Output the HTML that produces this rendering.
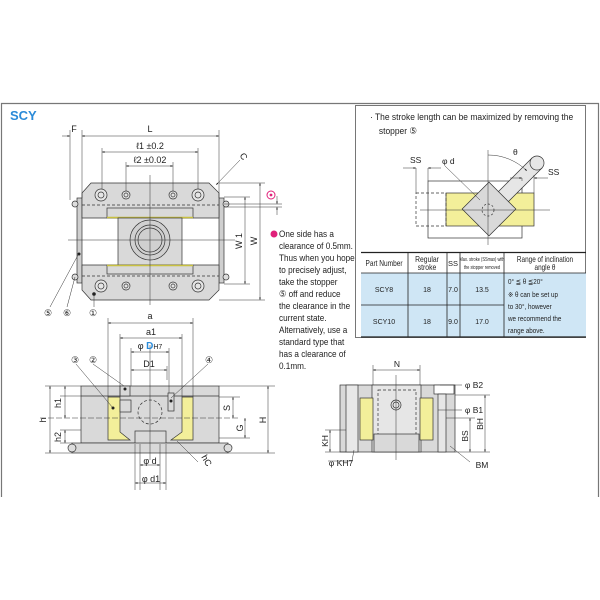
<!DOCTYPE html>
<html><head><meta charset="utf-8"><style>
html,body{margin:0;padding:0;background:#fff;}
svg{display:block;font-family:"Liberation Sans",sans-serif;}
</style></head><body>
<svg width="600" height="600" viewBox="0 0 600 600" xmlns="http://www.w3.org/2000/svg">
<defs>
<marker id="a" viewBox="0 0 6 6" refX="6" refY="3" markerWidth="5" markerHeight="5" orient="auto-start-reverse"><path d="M0,1 L6,3 L0,5z" fill="#222"/></marker>
</defs>
<path d="M1.5,497 V103.5 H598.5 V497" fill="none" stroke="#777" stroke-width="1.2"/>
<text x="10" y="120" font-size="13" font-weight="bold" fill="#2a8ad8">SCY</text>

<g stroke="#333" stroke-width="0.7" fill="none">
<rect x="77" y="198" width="5" height="85" fill="#cfcfcf"/>
<rect x="219" y="198" width="5" height="85" fill="#cfcfcf"/>
<circle cx="75" cy="204" r="3" fill="#ddd"/><circle cx="75" cy="277" r="3" fill="#ddd"/>
<circle cx="226" cy="204" r="3" fill="#ddd"/><circle cx="226" cy="277" r="3" fill="#ddd"/>
<path d="M91,183 H209 L219,193 V218 H82 V193Z" fill="#d9d9d9"/>
<rect x="107" y="208" width="86" height="10" fill="#d9d9d9"/>
<line x1="107" y1="217.5" x2="193" y2="217.5" stroke="#c8c040" stroke-width="1.5"/>
<rect x="118" y="218" width="64" height="47" fill="#d9d9d9"/>
<path d="M82,265 H219 V290 L209,300 H91 L82,290Z" fill="#d9d9d9"/>
<rect x="107" y="265" width="86" height="9" fill="#d9d9d9"/>
<line x1="107" y1="265.5" x2="193" y2="265.5" stroke="#c8c040" stroke-width="1.5"/>
<circle cx="150" cy="240" r="20" fill="#d0d0d0"/><circle cx="150" cy="240" r="15"/><circle cx="150" cy="240" r="12"/>
<g stroke-dasharray="3,2"><line x1="82" y1="205" x2="219" y2="205"/><line x1="82" y1="276" x2="219" y2="276"/></g>
<g fill="#e5e5e5">
<circle cx="101" cy="195" r="6"/><circle cx="101" cy="195" r="3"/><circle cx="198" cy="195" r="6"/><circle cx="198" cy="195" r="3"/>
<circle cx="126" cy="195" r="4"/><circle cx="126" cy="195" r="2"/><circle cx="173" cy="195" r="4"/><circle cx="173" cy="195" r="2"/>
<circle cx="101" cy="286" r="6"/><circle cx="101" cy="286" r="3"/><circle cx="198" cy="286" r="6"/><circle cx="198" cy="286" r="3"/>
<circle cx="126" cy="286" r="4"/><circle cx="126" cy="286" r="2"/><circle cx="173" cy="286" r="4"/><circle cx="173" cy="286" r="2"/>
</g>
<line x1="150" y1="175" x2="150" y2="305" stroke-width="0.5"/>
<line x1="68" y1="240" x2="235" y2="240" stroke-width="0.5"/>
<g stroke-width="0.5">
<line x1="70" y1="130" x2="70" y2="200"/><line x1="82" y1="130" x2="82" y2="198"/><line x1="219" y1="130" x2="219" y2="198"/>
<line x1="102" y1="148" x2="102" y2="189"/><line x1="198" y1="148" x2="198" y2="189"/>
<line x1="126" y1="162" x2="126" y2="191"/><line x1="173" y1="162" x2="173" y2="191"/>
<line x1="219" y1="183" x2="265" y2="183"/><line x1="219" y1="300" x2="265" y2="300"/>
<line x1="224" y1="197" x2="250" y2="197"/><line x1="224" y1="284" x2="250" y2="284"/>
<line x1="224" y1="204" x2="282" y2="204"/><line x1="224" y1="207" x2="282" y2="207"/>
</g>
<line x1="82" y1="136" x2="219" y2="136" marker-start="url(#a)" marker-end="url(#a)" stroke-width="0.5"/>
<line x1="62" y1="136" x2="70" y2="136" marker-end="url(#a)" stroke-width="0.5"/>
<line x1="102" y1="152" x2="198" y2="152" marker-start="url(#a)" marker-end="url(#a)" stroke-width="0.5"/>
<line x1="126" y1="166" x2="173" y2="166" marker-start="url(#a)" marker-end="url(#a)" stroke-width="0.5"/>
<line x1="245" y1="197" x2="245" y2="284" marker-start="url(#a)" marker-end="url(#a)" stroke-width="0.5"/>
<line x1="260" y1="183" x2="260" y2="300" marker-start="url(#a)" marker-end="url(#a)" stroke-width="0.5"/>
<line x1="277" y1="196" x2="277" y2="204" marker-end="url(#a)" stroke-width="0.5"/>
<line x1="277" y1="215" x2="277" y2="207" marker-end="url(#a)" stroke-width="0.5"/>
<line x1="240" y1="160" x2="216" y2="185" marker-end="url(#a)" stroke-width="0.5"/>
<line x1="50" y1="307" x2="78" y2="255" stroke-width="0.5"/><line x1="67" y1="307" x2="75" y2="277" stroke-width="0.5"/><line x1="94" y1="307" x2="94" y2="295" stroke-width="0.5"/>
</g>
<circle cx="79" cy="254" r="1.5" fill="#222"/><circle cx="94" cy="294" r="1.8" fill="#222"/>
<g font-size="9" fill="#222" text-anchor="middle">
<text x="74" y="132">F</text><text x="150" y="132">L</text>
<text x="150" y="149">ℓ1 ±0.2</text><text x="150" y="163">ℓ2 ±0.02</text>
<text x="241" y="158" transform="rotate(60 241 158)">C</text>
<text x="242" y="241" transform="rotate(-90 242 241)">W 1</text>
<text x="257" y="241" transform="rotate(-90 257 241)">W</text>
<text x="48" y="316">⑤</text><text x="67" y="316">⑥</text><text x="93" y="316">①</text>
</g>
<circle cx="271" cy="195" r="4" fill="none" stroke="#e0207a" stroke-width="1"/>
<circle cx="271" cy="195" r="1.4" fill="#e0207a"/>
<circle cx="274" cy="234" r="3.5" fill="#e0207a"/>
<g font-size="9.5" fill="#222" transform="translate(279,0) scale(0.86,1)">
<text x="0" y="237">One side has a</text>
<text x="0" y="249">clearance of 0.5mm.</text>
<text x="0" y="261">Thus when you hope</text>
<text x="0" y="273">to precisely adjust,</text>
<text x="0" y="285">take the stopper</text>
<text x="0" y="297">⑤ off and reduce</text>
<text x="0" y="309">the clearance in the</text>
<text x="0" y="321">current state.</text>
<text x="0" y="333">Alternatively, use a</text>
<text x="0" y="345">standard type that</text>
<text x="0" y="357">has a clearance of</text>
<text x="0" y="369">0.1mm.</text>
</g>

<!-- FRONT VIEW -->
<g stroke="#333" stroke-width="0.7" fill="none">
<rect x="81" y="386" width="138" height="57" fill="#d9d9d9"/>
<line x1="81" y1="396" x2="219" y2="396"/>
<path d="M108,397 H120 V432 L130,440 H108Z" fill="#f3ef9a"/>
<path d="M182,397 H193 V440 H171 L182,432Z" fill="#f3ef9a"/>
<rect x="120" y="400" width="11" height="12" fill="#d9d9d9"/>
<rect x="120" y="386" width="10" height="10" fill="#d9d9d9"/>
<rect x="168" y="393" width="6" height="18" fill="#d9d9d9"/>
<circle cx="150" cy="412" r="12" stroke-dasharray="3,2"/>
<rect x="135" y="431" width="31" height="13" fill="#d9d9d9"/>
<rect x="72" y="443" width="156" height="10" fill="#d9d9d9"/>
<circle cx="72" cy="448" r="4" fill="#ddd"/><circle cx="228" cy="448" r="4" fill="#ddd"/>
<g stroke-width="0.5">
<line x1="150" y1="345" x2="150" y2="460"/><line x1="40" y1="418" x2="240" y2="418" stroke-dasharray="6,2"/>
<line x1="108" y1="318" x2="108" y2="397"/><line x1="193" y1="318" x2="193" y2="397"/>
<line x1="120" y1="334" x2="120" y2="397"/><line x1="182" y1="334" x2="182" y2="397"/>
<line x1="131" y1="348" x2="131" y2="386"/><line x1="169" y1="348" x2="169" y2="393"/><line x1="167" y1="366" x2="167" y2="380"/>
<line x1="45" y1="386" x2="81" y2="386"/><line x1="60" y1="396" x2="81" y2="396"/><line x1="60" y1="430" x2="81" y2="430"/><line x1="45" y1="453" x2="72" y2="453"/><line x1="60" y1="443" x2="72" y2="443"/>
<line x1="219" y1="386" x2="275" y2="386"/><line x1="219" y1="397" x2="240" y2="397"/><line x1="219" y1="438" x2="250" y2="438"/><line x1="228" y1="453" x2="275" y2="453"/>
<line x1="140" y1="444" x2="140" y2="490"/><line x1="160" y1="444" x2="160" y2="490"/><line x1="135" y1="444" x2="135" y2="490"/><line x1="166" y1="444" x2="166" y2="490"/>
</g>
<g stroke-width="0.5" marker-start="url(#a)" marker-end="url(#a)">
<line x1="108" y1="323" x2="193" y2="323"/><line x1="120" y1="338" x2="182" y2="338"/>
<line x1="131" y1="352" x2="169" y2="352"/><line x1="131" y1="370" x2="167" y2="370"/>
<line x1="50" y1="386" x2="50" y2="453"/><line x1="65" y1="386" x2="65" y2="418"/><line x1="65" y1="430" x2="65" y2="443"/>
<line x1="233" y1="397" x2="233" y2="418"/><line x1="245" y1="418" x2="245" y2="438"/><line x1="268" y1="386" x2="268" y2="453"/>
<line x1="140" y1="465" x2="160" y2="465"/><line x1="135" y1="483" x2="166" y2="483"/>
</g>
<g stroke-width="0.5"><line x1="76" y1="364" x2="113" y2="408"/><line x1="93" y1="364" x2="124" y2="386"/><line x1="208" y1="364" x2="171" y2="398"/><line x1="198" y1="462" x2="177" y2="441"/></g>
</g>
<circle cx="113" cy="408" r="1.5" fill="#222"/><circle cx="125" cy="389" r="1.5" fill="#222"/><circle cx="171" cy="401" r="1.5" fill="#222"/>
<g font-size="9" fill="#222" text-anchor="middle">
<text x="150" y="319">a</text><text x="151" y="335">a1</text>
<text x="150" y="349">φ <tspan fill="#2a8ad8" font-weight="bold" font-size="10">D</tspan><tspan font-size="7">H7</tspan></text>
<text x="149" y="367">D1</text>
<text x="75" y="363">③</text><text x="93" y="363">②</text><text x="209" y="363">④</text>
<text x="46" y="420" transform="rotate(-90 46 420)">h</text>
<text x="61" y="403" transform="rotate(-90 61 403)">h1</text>
<text x="61" y="437" transform="rotate(-90 61 437)">h2</text>
<text x="230" y="408" transform="rotate(-90 230 408)">S</text>
<text x="243" y="428" transform="rotate(-90 243 428)">G</text>
<text x="266" y="420" transform="rotate(-90 266 420)">H</text>
<text x="204" y="462" transform="rotate(60 204 462)">hC</text>
<text x="150" y="464">φ d</text><text x="151" y="482">φ d1</text>
</g>

<!-- SIDE VIEW -->
<g stroke="#333" stroke-width="0.7" fill="none">
<rect x="340" y="385" width="115" height="67" fill="#d9d9d9"/>
<rect x="346" y="385" width="12" height="67" fill="#e8e8e8"/>
<rect x="372" y="385" width="49" height="67" fill="#e6e6e6"/>
<rect x="378" y="390" width="38" height="45" stroke-dasharray="3,2"/>
<rect x="374" y="434" width="45" height="18" fill="#d9d9d9"/>
<rect x="360" y="398" width="13" height="42" fill="#f3ef9a"/>
<rect x="420" y="398" width="13" height="42" fill="#f3ef9a"/>
<rect x="434" y="385" width="20" height="9" fill="#fff"/>
<rect x="438" y="394" width="8" height="58" fill="#e6e6e6"/>
<circle cx="396" cy="405" r="5"/><circle cx="396" cy="405" r="3"/>
<g stroke-width="0.5">
<line x1="396" y1="375" x2="396" y2="460"/><line x1="373" y1="365" x2="373" y2="385"/><line x1="420" y1="365" x2="420" y2="385"/>
<line x1="325" y1="430" x2="346" y2="430"/><line x1="325" y1="452" x2="346" y2="452"/>
<line x1="455" y1="395" x2="490" y2="395"/><line x1="455" y1="452" x2="490" y2="452"/><line x1="446" y1="418" x2="475" y2="418"/>
<line x1="440" y1="385" x2="462" y2="385"/><line x1="438" y1="410" x2="462" y2="410"/>
<line x1="352" y1="461" x2="328" y2="461"/><line x1="352" y1="461" x2="354" y2="450"/>
<line x1="470" y1="462" x2="450" y2="446"/>
</g>
<g stroke-width="0.5" marker-start="url(#a)" marker-end="url(#a)">
<line x1="373" y1="370" x2="420" y2="370"/><line x1="330" y1="430" x2="330" y2="452"/>
<line x1="485" y1="395" x2="485" y2="452"/><line x1="470" y1="418" x2="470" y2="452"/>
</g>
</g>
<g font-size="8.5" fill="#222" text-anchor="middle">
<text x="397" y="367">N</text>
<text x="474" y="388">φ B2</text><text x="474" y="413">φ B1</text>
<text x="483" y="424" transform="rotate(-90 483 424)">BH</text>
<text x="468" y="436" transform="rotate(-90 468 436)">BS</text>
<text x="328" y="441" transform="rotate(-90 328 441)">KH</text>
<text x="341" y="466">φ KH7</text><text x="482" y="468">BM</text>
</g>

<!-- RIGHT PANEL -->
<rect x="355.5" y="105.5" width="230" height="232" fill="none" stroke="#555" stroke-width="0.8"/>
<g font-size="9.5" fill="#222" transform="translate(370,0) scale(0.89,1)">
<text x="0" y="120">· The stroke length can be maximized by removing the</text>
<text x="10" y="134">stopper ⑤</text>
</g>
<g stroke="#333" stroke-width="0.7" fill="none">
<rect x="428" y="181" width="94" height="57"/>
<rect x="446" y="193" width="88" height="33" fill="#f3ef9a"/>
<rect x="416" y="193" width="30" height="33" stroke-dasharray="3,2"/>
<path d="M490,200 L532,158 L542,168 L500,210Z" fill="#e6e6e6"/>
<circle cx="537" cy="163" r="7" fill="#e6e6e6"/>
<rect x="470" y="190" width="38" height="38" transform="rotate(45 489 209)" fill="#d9d9d9"/>
<circle cx="488" cy="210" r="6" stroke-dasharray="2,2"/>
<g stroke-width="0.5">
<line x1="488" y1="150" x2="488" y2="245"/><line x1="420" y1="210" x2="550" y2="210"/>
<line x1="416" y1="168" x2="416" y2="193"/><line x1="428" y1="168" x2="428" y2="181"/>
<line x1="522" y1="178" x2="522" y2="181"/><line x1="534" y1="175" x2="534" y2="193"/>
<line x1="445" y1="166" x2="480" y2="200"/>
<path d="M488,155 A55,55 0 0 1 527,171" marker-end="url(#a)"/>
</g>
<g stroke-width="0.5" marker-end="url(#a)"><line x1="403" y1="168" x2="416" y2="168"/><line x1="441" y1="168" x2="428" y2="168"/><line x1="510" y1="178" x2="522" y2="178"/><line x1="548" y1="178" x2="534" y2="178"/></g>
</g>
<g font-size="8.5" fill="#222">
<text x="410" y="163">SS</text><text x="442" y="164">φ d</text><text x="513" y="155">θ</text><text x="548" y="175">SS</text>
</g>
<rect x="361" y="273" width="225" height="64" fill="#cfe6f5"/>
<g stroke="#222" stroke-width="0.8" fill="none">
<line x1="361" y1="252.5" x2="586" y2="252.5" stroke-width="1.2"/>
<line x1="361" y1="273" x2="586" y2="273"/>
<line x1="361" y1="305" x2="504" y2="305"/>
<line x1="361" y1="337" x2="586" y2="337" stroke-width="1.2"/>
<line x1="408" y1="252" x2="408" y2="337"/><line x1="447" y1="252" x2="447" y2="337"/>
<line x1="460" y1="252" x2="460" y2="337"/><line x1="504" y1="252" x2="504" y2="337"/>
</g>
<g fill="#222" text-anchor="middle">
<text x="0" y="266" font-size="8" transform="translate(384,0) scale(0.82,1)">Part Number</text>
<text x="0" y="262" font-size="8" transform="translate(427,0) scale(0.85,1)">Regular</text>
<text x="0" y="270" font-size="8" transform="translate(427,0) scale(0.85,1)">stroke</text>
<text x="453" y="266" font-size="7.5">SS</text>
<text x="0" y="261" font-size="5.5" transform="translate(482,0) scale(0.72,1)">Max. stroke (SSmax) with</text>
<text x="0" y="269" font-size="5.5" transform="translate(482,0) scale(0.72,1)">the stopper removed</text>
<text x="0" y="262" font-size="8" transform="translate(545,0) scale(0.8,1)">Range of inclination</text>
<text x="0" y="270" font-size="8" transform="translate(545,0) scale(0.8,1)">angle θ</text>
<g font-size="7"><text x="384" y="292">SCY8</text><text x="427" y="292">18</text><text x="453" y="292">7.0</text><text x="482" y="292">13.5</text>
<text x="384" y="324">SCY10</text><text x="427" y="324">18</text><text x="453" y="324">9.0</text><text x="482" y="324">17.0</text></g>
</g>
<g font-size="7" fill="#222" transform="translate(508,0) scale(0.9,1)">
<text x="0" y="284">0° ≦ θ ≦20°</text>
<text x="0" y="297">※ θ can be set up</text>
<text x="0" y="309">to 30°, however</text>
<text x="0" y="321">we recommend the</text>
<text x="0" y="333">range above.</text>
</g>
</svg>
</body></html>
